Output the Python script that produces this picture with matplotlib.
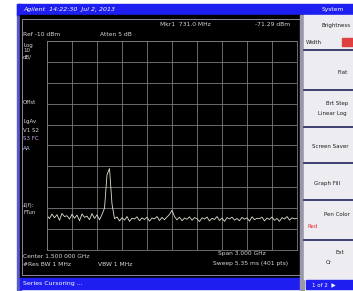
import matplotlib
matplotlib.use("Agg")
import matplotlib.pyplot as plt
from matplotlib.patches import Rectangle
import numpy as np

# -----------------------------------------------------------------------------
# data
start_ghz = 0.0
stop_ghz = 3.0
ref_dbm = -10.0
db_per_div = 10.0

# trace, 101 points across the span (dBm)
trace_dbm = [
    -93.5, -95.0, -92.8, -94.6, -93.1, -95.8, -92.5, -94.0, -93.6, -95.2,
    -92.9, -94.8, -93.3, -96.0, -92.7, -94.4, -93.8, -95.5, -92.6, -94.9,
    -93.2, -95.6, -93.0, -90.0, -74.0, -71.0, -88.0, -95.0, -94.2, -96.1,
    -94.5, -95.7, -94.0, -96.3, -94.8, -95.2, -94.1, -96.0, -94.6, -95.4,
    -94.3, -96.2, -94.7, -95.1, -94.0, -95.9, -94.4, -95.5, -94.2, -93.0,
    -91.0, -94.0, -95.6, -94.3, -96.0, -94.7, -95.3, -94.1, -95.8, -94.5,
    -95.0, -96.4, -94.6, -95.2, -94.2, -96.1, -94.8, -95.4, -94.0, -95.9,
    -94.7, -96.3, -94.5, -95.1, -94.3, -95.7, -94.9, -96.0, -94.4, -95.3,
    -94.6, -96.2, -94.1, -95.5, -94.8, -95.0, -94.3, -96.1, -94.7, -95.4,
    -94.2, -95.8, -94.9, -96.3, -94.5, -95.2, -94.0, -95.7, -94.6, -95.1,
    -94.8,
]

header_text = "Agilent  14:22:30  Jul 2, 2013"
menu_title = "System"
status_text = "Series Cursoring ..."
page_text = "1 of 2  \u25b6"

marker_freq = "Mkr1  731.0 MHz"
marker_amp = "-71.29 dBm"
ref_text = "Ref -10 dBm"
atten_text = "Atten 5 dB"
left_labels = [("Log", 45), ("10", 51), ("dB/", 57),
               ("Offst", 103), ("LgAv", 121), ("V1 S2", 130),
               ("S3 FC", 139), ("AA", 148), ("\u00a3(f):", 205), ("FTun", 213)]
bottom_left = ["Center 1.500 000 GHz", "#Res BW 1 MHz"]
vbw_text = "VBW 1 MHz"
bottom_right = ["Span 3.000 GHz", "Sweep 5.35 ms (401 pts)"]

softkeys = [("Brightness", 322, 25), ("Width", 306, 43),
            ("Flat", 338, 72),
            ("Brt Step", 326, 103), ("Linear Log", 318, 114),
            ("Screen Saver", 312, 146),
            ("Graph Fill", 314, 183),
            ("Pen Color", 324, 215),
            ("Ext", 336, 253), ("Cr", 326, 263)]
key_lines = [50, 90, 127, 163, 200, 240]

# -----------------------------------------------------------------------------
W, H = 353, 291
fig = plt.figure(figsize=(W / 100, H / 100), dpi=100)
fig.patch.set_facecolor("white")

bg = fig.add_axes([0, 0, 1, 1])
bg.set_xlim(0, W)
bg.set_ylim(H, 0)
bg.axis("off")

blue = "#1e1ef0"
# frames
bg.add_patch(Rectangle((17, 4), 4, 287, color="#5a5ac8"))
bg.add_patch(Rectangle((17, 4), W - 17, 11, color=blue))
bg.add_patch(Rectangle((20, 15), 283, 263, color="black"))
bg.add_patch(Rectangle((21.5, 19), 278, 256, fill=False, ec="#8a8a98", lw=0.7))
bg.add_patch(Rectangle((20, 278), 283, 11, color=blue))
bg.add_patch(Rectangle((300, 15), 4, 276, color="#9898a8"))
bg.add_patch(Rectangle((304, 15), W - 304, 264, color="#ececf1"))
bg.add_patch(Rectangle((306, 280), W - 306, 9, color=blue))
for yk in key_lines:
    bg.plot([304, W], [yk, yk], color="#22225a", lw=1.2)
bg.add_patch(Rectangle((342, 38), 11, 8, color="#e04040"))
bg.text(307, 227, "Red", color="#e03030", fontsize=4, va="center")

txt = dict(fontsize=4.3, va="center", color="#d8d8d8")
bg.text(23, 9.5, header_text, fontsize=4.5, va="center", color="white",
        style="italic")
bg.text(322, 9.5, menu_title, fontsize=4.3, va="center", color="white")
bg.text(23, 283.5, status_text, fontsize=4.5, va="center", color="white")
bg.text(312, 284.5, page_text, fontsize=4, va="center", color="white")

bg.text(160, 25, marker_freq, **txt)
bg.text(255, 25, marker_amp, **txt)
bg.text(23, 35, ref_text, **txt)
bg.text(100, 35, atten_text, **txt)
label_colors = ["#d8d8d8"] * 6 + ["#c8a8e8", "#c8c8ff", "#d8d8d8", "#d8d8d8"]
for (lab, yy), c in zip(left_labels, label_colors):
    bg.text(23, yy, lab, fontsize=4, va="center", color=c)
bg.text(23, 256, bottom_left[0], **txt)
bg.text(23, 265, bottom_left[1], **txt)
bg.text(98, 265, vbw_text, **txt)
bg.text(218, 254, bottom_right[0], **txt)
bg.text(213, 263, bottom_right[1], **txt)

for lab, xx, yy in softkeys:
    bg.text(xx, yy, lab, fontsize=4.0, va="center", color="#202020")

# -----------------------------------------------------------------------------
# graticule
gx0, gx1, gy0, gy1 = 47, 297, 41, 250
ax = fig.add_axes([gx0 / W, 1 - gy1 / H, (gx1 - gx0) / W, (gy1 - gy0) / H])
ax.set_facecolor("none")
bottom_dbm = ref_dbm - 10 * db_per_div
ax.set_xlim(start_ghz, stop_ghz)
ax.set_ylim(bottom_dbm, ref_dbm)
ax.set_xticks(np.linspace(start_ghz, stop_ghz, 11))
ax.set_yticks(np.linspace(bottom_dbm, ref_dbm, 11))
ax.tick_params(length=0, labelbottom=False, labelleft=False)
ax.grid(True, color="#7c7c7c", lw=0.6)
for s in ax.spines.values():
    s.set_color("#7c7c7c")
    s.set_linewidth(0.6)

freqs = np.linspace(start_ghz, stop_ghz, len(trace_dbm))
ax.plot(freqs, trace_dbm, color="#e0e0d0", lw=0.6)

fig.savefig("out.png", dpi=100, facecolor=fig.get_facecolor())
